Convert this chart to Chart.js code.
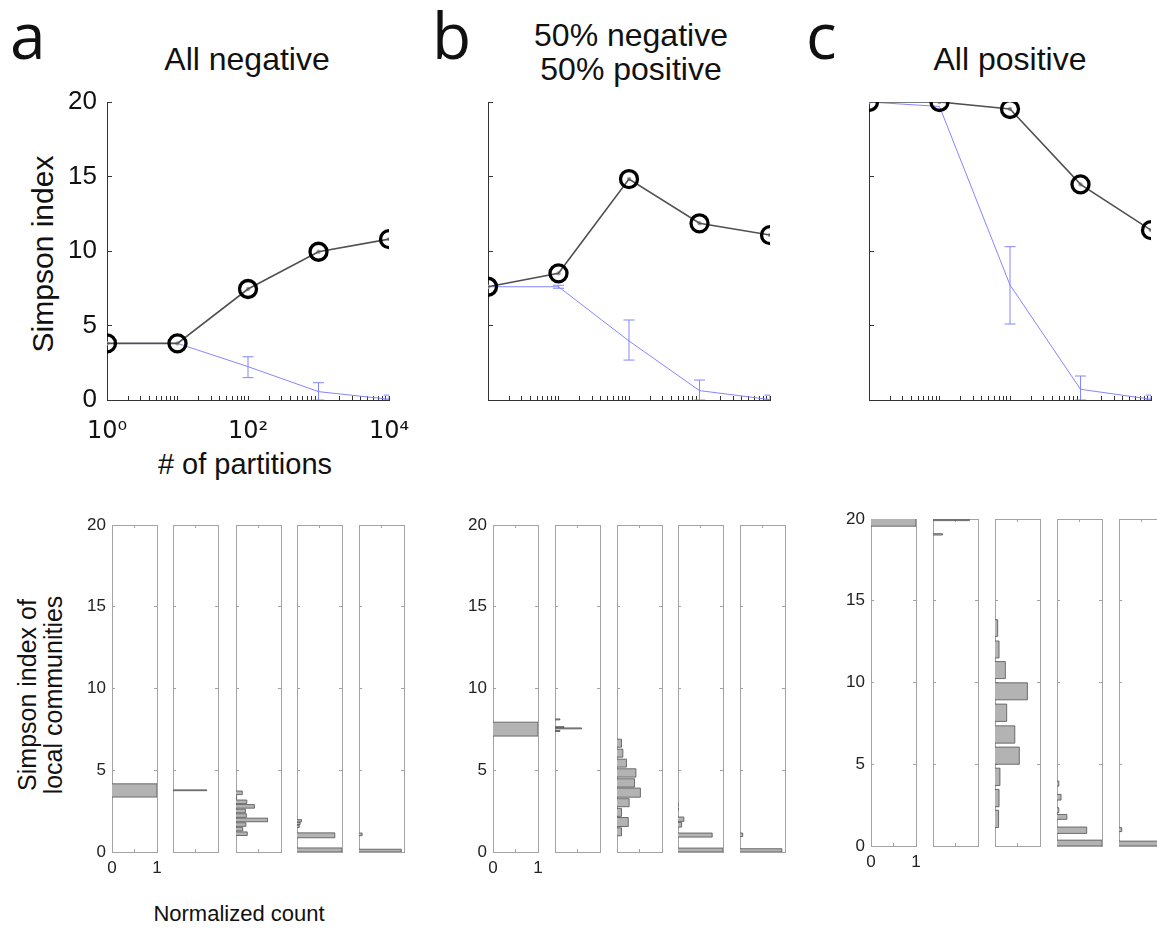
<!DOCTYPE html>
<html>
<head>
<meta charset="utf-8">
<script src="https://cdn.jsdelivr.net/npm/chart.js@4.4.1/dist/chart.umd.min.js"></script>
<style>
html, body { margin: 0; padding: 0; background: #fff; overflow: hidden; width: 1157px; height: 929px; }
#fig { position: relative; width: 1157px; height: 929px; overflow: hidden; }
#fig canvas { position: absolute; }
.t { position: absolute; font-family: "Liberation Sans", Arial, sans-serif; color: #111; white-space: nowrap; line-height: 1; }
.letter { font-family: "Open Sans", sans-serif; font-size: 64px; }
.rot { transform: translate(-50%, -50%) rotate(-90deg); text-align: center; }
</style>
</head>
<body>
<div id="fig">
  <div class="t letter" style="left:10px;top:3px;">a</div>
  <div class="t letter" style="left:432px;top:3px;">b</div>
  <div class="t letter" style="left:806px;top:3px;">c</div>
  <div class="t" style="left:47px;width:400px;text-align:center;top:43px;font-size:32px;">All negative</div>
  <div class="t" style="left:431px;width:400px;text-align:center;top:18px;font-size:32px;line-height:34px;">50% negative<br>50% positive</div>
  <div class="t" style="left:810px;width:400px;text-align:center;top:43px;font-size:32px;">All positive</div>
  <div class="t rot" style="left:43px;top:254px;font-size:30px;">Simpson index</div>
  <div class="t" style="left:45px;width:400px;text-align:center;top:450px;font-size:29px;"># of partitions</div>
  <div class="t rot" style="left:40px;top:695px;font-size:25px;line-height:26px;">Simpson index of<br>local communities</div>
  <div class="t" style="left:39px;width:400px;text-align:center;top:903px;font-size:22px;">Normalized count</div>
</div>
<script>
// ---------------- data ----------------
const partitions = [1, 10, 100, 1000, 10000];
const xLabelValues = [1, 100, 10000];
const xLabelTexts = ['10\u2070', '10\u00B2', '10\u2074'];
const yTicksTop = [0, 5, 10, 15, 20];

// regional Simpson index (black circles) and mean local index (blue) with error bars
const negRegional = [3.8, 3.8, 7.45, 9.95, 10.8];
const negLocal    = [3.8, 3.8, 2.24, 0.56, 0.05];
const negLocalLo  = [null, null, 1.5, 0.0, 0.0];
const negLocalHi  = [null, null, 2.9, 1.16, 0.33];

const mixRegional = [7.6, 8.5, 14.83, 11.86, 11.07];
const mixLocal    = [7.6, 7.6, 3.96, 0.63, 0.03];
const mixLocalLo  = [null, 7.5, 2.68, 0.0, 0.0];
const mixLocalHi  = [null, 7.7, 5.37, 1.34, 0.33];

const posRegional = [20.0, 20.0, 19.53, 14.47, 11.4];
const posLocal    = [20.0, 19.7, 7.72, 0.72, 0.05];
const posLocalLo  = [null, null, 5.1, 0.0, 0.0];
const posLocalHi  = [null, null, 10.29, 1.61, 0.33];

// histograms: [low edge, high edge, normalized count]
const negHist1 = [[3.36, 4.17, 1.00]];
const negHist2 = [[3.75, 3.80, 0.75]];
const negHist3 = [[1.01,1.23,0.25],[1.29,1.51,0.15],[1.57,1.79,0.22],[1.85,2.07,0.70],[2.12,2.34,0.23],
                  [2.40,2.62,0.21],[2.68,2.90,0.41],[2.96,3.18,0.24],[3.23,3.45,0.02],[3.51,3.73,0.14]];
const negHist4 = [[1.84,1.98,0.10],[1.68,1.82,0.07],[1.50,1.64,0.05],[0.87,1.17,0.84],[0.00,0.25,1.00]];
const negHist5 = [[1.00,1.16,0.07],[0.00,0.17,0.94]];

const mixHist1 = [[7.09, 7.94, 1.00]];
const mixHist2 = [[8.08,8.14,0.11],[7.61,7.67,0.20],[7.53,7.59,0.59],[7.37,7.43,0.11]];
const mixHist3 = [[0.99,1.48,0.10],[1.56,2.11,0.25],[2.18,2.67,0.10],[2.77,3.26,0.27],[3.35,3.91,0.52],
                  [3.97,4.48,0.39],[4.58,5.09,0.42],[5.19,5.68,0.21],[5.80,6.29,0.13],[6.41,6.90,0.10]];
const mixHist4 = [[2.83,2.99,0.01],[2.54,2.70,0.01],[1.87,2.14,0.13],[1.52,1.81,0.08],[0.91,1.16,0.76],[0.00,0.24,1.00]];
const mixHist5 = [[0.95,1.16,0.06],[0.00,0.20,0.93]];

const posHist1 = [[19.56, 20.05, 1.00]];
const posHist2 = [[19.90,19.98,0.81],[19.02,19.10,0.21]];
const posHist3 = [[1.13,2.19,0.08],[2.40,3.46,0.09],[3.70,4.76,0.11],[5.00,6.05,0.54],[6.29,7.35,0.44],
                  [7.62,8.68,0.26],[8.94,9.98,0.72],[10.24,11.28,0.23],[11.50,12.54,0.09],[12.82,13.84,0.06]];
const posHist4 = [[3.66,3.97,0.04],[2.81,3.16,0.09],[2.04,2.34,0.04],[1.63,1.93,0.22],[0.77,1.16,0.66],[0.00,0.36,1.00]];
const posHist5 = [[0.88,1.12,0.06],[0.00,0.30,0.93]];

const histXTickLabels = { 0: '0', 1: '1' };

// ---------------- helpers ----------------
const FONT = '"Liberation Sans", Arial, sans-serif';
const fig = document.getElementById('fig');
function makeCanvas(left, top, w, h) {
  const c = document.createElement('canvas');
  c.width = w; c.height = h;
  c.style.left = left + 'px'; c.style.top = top + 'px';
  c.style.width = w + 'px'; c.style.height = h + 'px';
  fig.appendChild(c);
  return c;
}
// minor tick positions of the log axis (1..9 x each decade)
const logTicks = [];
for (let e = 0; e < 4; e++) for (let m = 1; m <= 9; m++) logTicks.push(m * Math.pow(10, e));
logTicks.push(10000);

const BLUE = '#8585ff';

// plot area: 282 x 298 px, top at y=102
function topPanel(plotLeft, regional, local, lo, hi, showLabels) {
  const cv = makeCanvas(plotLeft - 70, 68, 70 + 282 + 56, 34 + 298 + 50);
  const pts = arr => partitions.map((x, i) => ({ x, y: arr[i] }));
  const datasets = [
    { data: pts(regional), borderColor: '#505050', borderWidth: 1.6, pointRadius: 8.5,
      pointBorderWidth: 3.3, pointBorderColor: '#000', pointBackgroundColor: 'rgba(0,0,0,0)' },
    { data: pts(regional), showLine: false, pointRadius: 2.2, pointBorderWidth: 0, pointBackgroundColor: '#a8a8a8' },
    { data: pts(local), borderColor: BLUE, borderWidth: 1, pointRadius: 0 }
  ];
  partitions.forEach((x, i) => {
    if (lo[i] === null) return;
    datasets.push({ data: [{ x, y: lo[i] }, { x, y: hi[i] }], borderColor: BLUE, borderWidth: 1,
      pointStyle: 'line', pointRadius: 5.5, pointBorderColor: BLUE, pointBorderWidth: 1 });
  });
  datasets.forEach(d => { d.xAxisID = 'x'; d.yAxisID = 'y'; d.tension = 0; d.fill = false; });
  new Chart(cv, {
    type: 'line',
    data: { datasets },
    options: {
      responsive: false, animation: false, events: [],
      layout: { padding: { top: 34, right: 56, left: 0, bottom: 0 } },
      plugins: { legend: { display: false }, tooltip: { enabled: false } },
      scales: {
        x: {
          type: 'logarithmic', min: 1, max: 10000,
          afterBuildTicks: s => { s.ticks = logTicks.map(v => ({ value: v })); },
          afterFit: s => { s.height = 50; },
          border: { color: '#333', width: 1 },
          grid: { drawOnChartArea: false, color: '#333', tickLength: -4, lineWidth: 1 },
          ticks: { autoSkip: false, maxRotation: 0, minRotation: 0, padding: 21, color: '#111',
            font: { family: '"DejaVu Sans", sans-serif', size: 24 },
            callback: v => { if (!showLabels) return ''; const k = xLabelValues.indexOf(v); return k >= 0 ? xLabelTexts[k] : ''; } }
        },
        y: {
          type: 'linear', min: 0, max: 20,
          afterBuildTicks: s => { s.ticks = yTicksTop.map(v => ({ value: v })); },
          afterFit: s => { s.width = 70; },
          border: { color: '#333', width: 1 },
          grid: { drawOnChartArea: false, color: '#333', tickLength: -5, lineWidth: 1 },
          ticks: { padding: 15, color: '#111', font: { family: FONT, size: 26 },
            callback: v => showLabels ? String(v) : '' }
        }
      }
    }
  });
}

// plot area: 45 x 327 px
function histPanel(plotLeft, plotTop, bins, showLabels) {
  const cv = makeCanvas(plotLeft - 34, plotTop - 22, 34 + 45 + 18, 22 + 327 + 28);
  const datasets = bins.map(([lo, hi, c]) => ({
    xAxisID: 'x', yAxisID: 'y',
    data: [{ x: 0, y: lo }, { x: c, y: lo }, { x: c, y: hi }, { x: 0, y: hi }],
    fill: 'shape', backgroundColor: '#b3b3b3', borderColor: '#505050', borderWidth: 0.8,
    pointRadius: 0, tension: 0
  }));
  const GREY = '#a3a3a3';
  const axisCommon = { border: { color: GREY, width: 1 } };
  new Chart(cv, {
    type: 'line',
    data: { datasets },
    options: {
      responsive: false, animation: false, events: [],
      layout: { padding: { top: 22, right: 18, left: 0, bottom: 0 } },
      plugins: { legend: { display: false }, tooltip: { enabled: false } },
      scales: {
        x: Object.assign({
          type: 'linear', position: 'bottom', min: 0, max: 1,
          afterFit: s => { s.height = 28; },
          grid: { drawOnChartArea: false, color: GREY, tickLength: -3 },
          ticks: { stepSize: 0.5, autoSkip: false, maxRotation: 0, padding: 9, color: '#222',
            font: { family: FONT, size: 17 },
            callback: v => showLabels && histXTickLabels[v] !== undefined ? histXTickLabels[v] : '' }
        }, axisCommon),
        xT: Object.assign({
          type: 'linear', position: 'top', min: 0, max: 1,
          afterFit: s => { s.height = 0; },
          grid: { drawOnChartArea: false, color: GREY, tickLength: -3 },
          ticks: { stepSize: 0.5, display: false }
        }, axisCommon),
        y: Object.assign({
          type: 'linear', position: 'left', min: 0, max: 20,
          afterFit: s => { s.width = 34; },
          grid: { drawOnChartArea: false, color: GREY, tickLength: -3 },
          ticks: { stepSize: 5, padding: 9, color: '#222', font: { family: FONT, size: 17 },
            callback: v => showLabels ? String(v) : '' }
        }, axisCommon),
        yR: Object.assign({
          type: 'linear', position: 'right', min: 0, max: 20,
          afterFit: s => { s.width = 0; },
          grid: { drawOnChartArea: false, color: GREY, tickLength: -3 },
          ticks: { stepSize: 5, display: false }
        }, axisCommon)
      }
    }
  });
}

// ---------------- draw ----------------
topPanel(107, negRegional, negLocal, negLocalLo, negLocalHi, true);
topPanel(488, mixRegional, mixLocal, mixLocalLo, mixLocalHi, false);
topPanel(869, posRegional, posLocal, posLocalLo, posLocalHi, false);

const negLefts = [112, 173, 236, 297, 359];
const mixLefts = [493, 555, 617, 678, 740];
const posLefts = [871, 933, 995, 1057, 1119];
[negHist1, negHist2, negHist3, negHist4, negHist5].forEach((b, i) => histPanel(negLefts[i], 525, b, i === 0));
[mixHist1, mixHist2, mixHist3, mixHist4, mixHist5].forEach((b, i) => histPanel(mixLefts[i], 525, b, i === 0));
[posHist1, posHist2, posHist3, posHist4, posHist5].forEach((b, i) => histPanel(posLefts[i], 519, b, i === 0));
</script>
</body>
</html>
